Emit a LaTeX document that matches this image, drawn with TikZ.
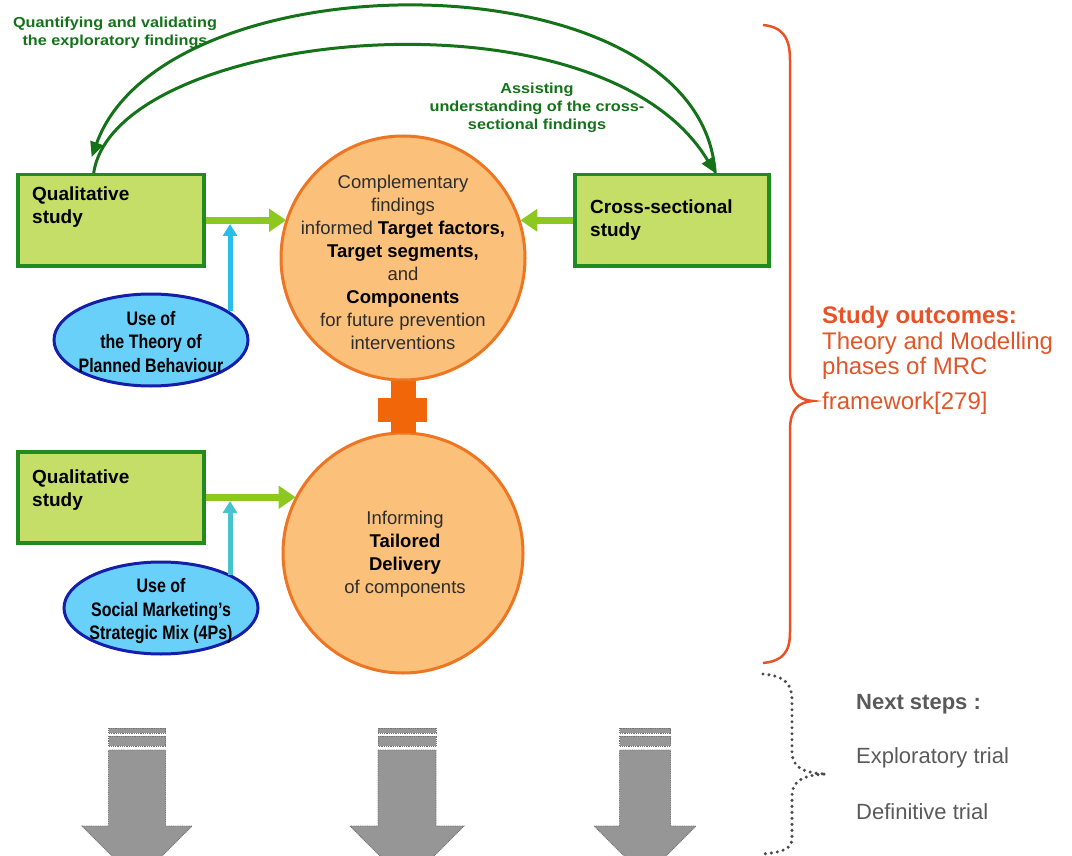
\documentclass[tikz,border=0pt]{standalone}
\usepackage{fontspec}
\setmainfont{Liberation Sans}
\newfontfamily\greenfont[FakeStretch=1.12]{Liberation Sans}
\newfontfamily\narrowfont[FakeStretch=0.82]{Liberation Sans}
\usetikzlibrary{shapes.geometric,arrows.meta,calc}
\definecolor{boxfill}{RGB}{196,222,104}
\definecolor{boxdraw}{RGB}{30,140,30}
\definecolor{circfill}{RGB}{251,192,122}
\definecolor{circdraw}{RGB}{238,118,35}
\definecolor{plusc}{RGB}{242,102,10}
\definecolor{lgreen}{RGB}{140,200,30}
\definecolor{cyanA}{RGB}{40,190,235}
\definecolor{cyanB}{RGB}{70,195,205}
\definecolor{ellfill}{RGB}{105,208,250}
\definecolor{elldraw}{RGB}{20,30,170}
\definecolor{dgreen}{RGB}{20,115,25}
\definecolor{bracec}{RGB}{232,82,38}
\definecolor{outc}{RGB}{225,85,40}
\definecolor{stepc}{RGB}{90,90,90}
\definecolor{dotc}{RGB}{75,75,75}
\definecolor{arrfill}{RGB}{150,150,150}
\definecolor{arrdraw}{RGB}{115,115,115}
\definecolor{circtext}{RGB}{45,45,45}
\begin{document}
\begin{tikzpicture}[x=1pt,y=-1pt,
  studybox/.style={draw=boxdraw,line width=3.5pt,fill=boxfill,inner sep=0,anchor=north west},
  boxtext/.style={font=\fontsize{19}{23}\selectfont\bfseries,align=left,anchor=north west,inner sep=0,text=black},
  bigcirc/.style={circle,draw=circdraw,line width=3pt,fill=circfill,inner sep=0},
  circtxt/.style={font=\fontsize{18.5}{23}\selectfont,align=center,text=circtext,inner sep=0},
  theory/.style={ellipse,draw=elldraw,line width=3pt,fill=ellfill,inner sep=0,minimum width=194pt,minimum height=92pt},
  elltxt/.style={font=\narrowfont\fontsize{19.5}{23.5}\selectfont\bfseries,align=center,inner sep=0},
  greenlbl/.style={font=\greenfont\fontsize{14.5}{18}\selectfont\bfseries,align=center,text=dgreen,inner sep=0},
  feed/.style={draw=lgreen,line width=7pt,-{Triangle[length=17pt,width=22pt]}},
  cyanarr/.style={line width=5pt,-{Triangle[length=12pt,width=14pt]}},
  loop/.style={draw=dgreen,line width=3pt,-{Triangle[length=15pt,width=13pt]}},
  outtxt/.style={font=\fontsize{24}{25.5}\selectfont,text=outc,align=left,anchor=north west,inner sep=0},
  steptxt/.style={font=\fontsize{22}{25}\selectfont,text=stepc,anchor=west,inner sep=0},
  grayarr/.style={fill=arrfill,draw=arrdraw,line width=0.9pt,dash pattern=on 1pt off 0.8pt}
]
\useasboundingbox (0,0) rectangle (1072,856);

% boxes
\node[studybox,minimum width=186pt,minimum height=91pt] (q1) at (16,173) {};
\node[boxtext] (q1t) at (32,187) {Qualitative\\study};
\node[studybox,minimum width=194pt,minimum height=91pt] (x1) at (573,173) {};
\node[boxtext] (x1t) at (590,200) {Cross-sectional\\study};
\node[studybox,minimum width=186pt,minimum height=91pt] (q2) at (16,450) {};
\node[boxtext] (q2t) at (32,470) {Qualitative\\study};

% circles
\node[bigcirc,minimum size=244pt] (c1) at (403,258) {};
\node[circtxt] (c1t) at (403,262) {Complementary\\findings\\informed \textcolor{black}{\textbf{Target factors,}}\\\textcolor{black}{\textbf{Target segments,}}\\and\\\textcolor{black}{\textbf{Components}}\\for future prevention\\interventions};
\node[bigcirc,minimum size=240pt] (c2) at (403,553) {};
\node[circtxt] (c2t) at (405,554) {Informing\\\textcolor{black}{\textbf{Tailored}}\\\textcolor{black}{\textbf{Delivery}}\\of components};

% plus
\fill[plusc] ($(c1.south)+(-12.5,-1)$) rectangle ($(c2.north)+(12.5,1)$);
\fill[plusc] (378,398) rectangle (427,422);

% ellipses
\node[theory] (e1) at (151,340) {};
\node[elltxt] (e1t) at (151,342) {Use of\\the Theory of\\Planned Behaviour};
\node[theory] (e2) at (161,608) {};
\node[elltxt] (e2t) at (161,611) {Use of\\Social Marketing’s\\Strategic Mix (4Ps)};

% feed arrows
\draw[feed] (q1.east) -- (q1.east -| c1.161.6);
\draw[feed] (x1.west) -- (x1.west -| c1.18.4);
\draw[feed] (q2.east) -- (q2.east -| c2.152.7);
\coordinate (j1) at (230,224);
\coordinate (j2) at (230,501);
\draw[cyanarr,draw=cyanA] (e1.20 -| j1) -- (j1);
\draw[cyanarr,draw=cyanB] (e2.25 -| j2) -- (j2);

% green loops
\coordinate (qa) at ($(q1.north west)!0.41!(q1.north east)$);
\coordinate (qb) at ($(qa)+(-2,-16)$);
\coordinate (xa) at ($(x1.north west)!0.72!(x1.north east)$);
\draw[loop] (qa) .. controls (115,30) and (600,-20) .. (xa);
\draw[loop] (xa) .. controls (700,-46) and (165,-46) .. (qb);
\node[greenlbl] (l1) at (115,33) {Quantifying and validating\\the exploratory findings};
\node[greenlbl] (l2) at (537,108) {Assisting\\understanding of the cross-\\sectional findings};

% red brace
\draw[bracec,line width=2.5pt] (763,25) .. controls (783,27) and (790,38) .. (790,60) -- (790,372) .. controls (790,392) and (798,400) .. (813,401) .. controls (798,402) and (790,410) .. (790,430) -- (790,632) .. controls (790,652) and (783,661) .. (763,663);
\node[outtxt] (out) at (822,306) {\textcolor{bracec}{\textbf{Study outcomes:}}\\Theory and Modelling\\phases of MRC\\[9pt]framework[279]};

% dotted brace
\draw[dotc,line width=3.4pt,line cap=round,dash pattern=on 0pt off 6pt] (763,674) .. controls (785,676) and (792,684) .. (792,700) -- (792,752) .. controls (792,765) and (800,773) .. (826,774) .. controls (800,775) and (792,783) .. (792,796) -- (792,838) .. controls (792,848) and (785,852) .. (763,854);
\node[steptxt] (ns) at (856,704) {\textbf{Next steps :}};
\node[steptxt] (et) at (856,758) {Exploratory trial};
\node[steptxt] (dt) at (856,812) {Definitive trial};

% gray arrows
\foreach \cx/\sw/\hw in {137/57/55,407/58/57,645/51/51}{
  \path[grayarr] ({\cx-\sw/2},728) rectangle ({\cx+\sw/2},733);
  \path[grayarr] ({\cx-\sw/2},736) rectangle ({\cx+\sw/2},746);
  \path[grayarr] ({\cx-\sw/2},750) -- ({\cx+\sw/2},750) -- ({\cx+\sw/2},826) -- ({\cx+\hw},826) -- (\cx,{826+\hw}) -- ({\cx-\hw},826) -- ({\cx-\sw/2},826) -- cycle;
}
\end{tikzpicture}
\end{document}
